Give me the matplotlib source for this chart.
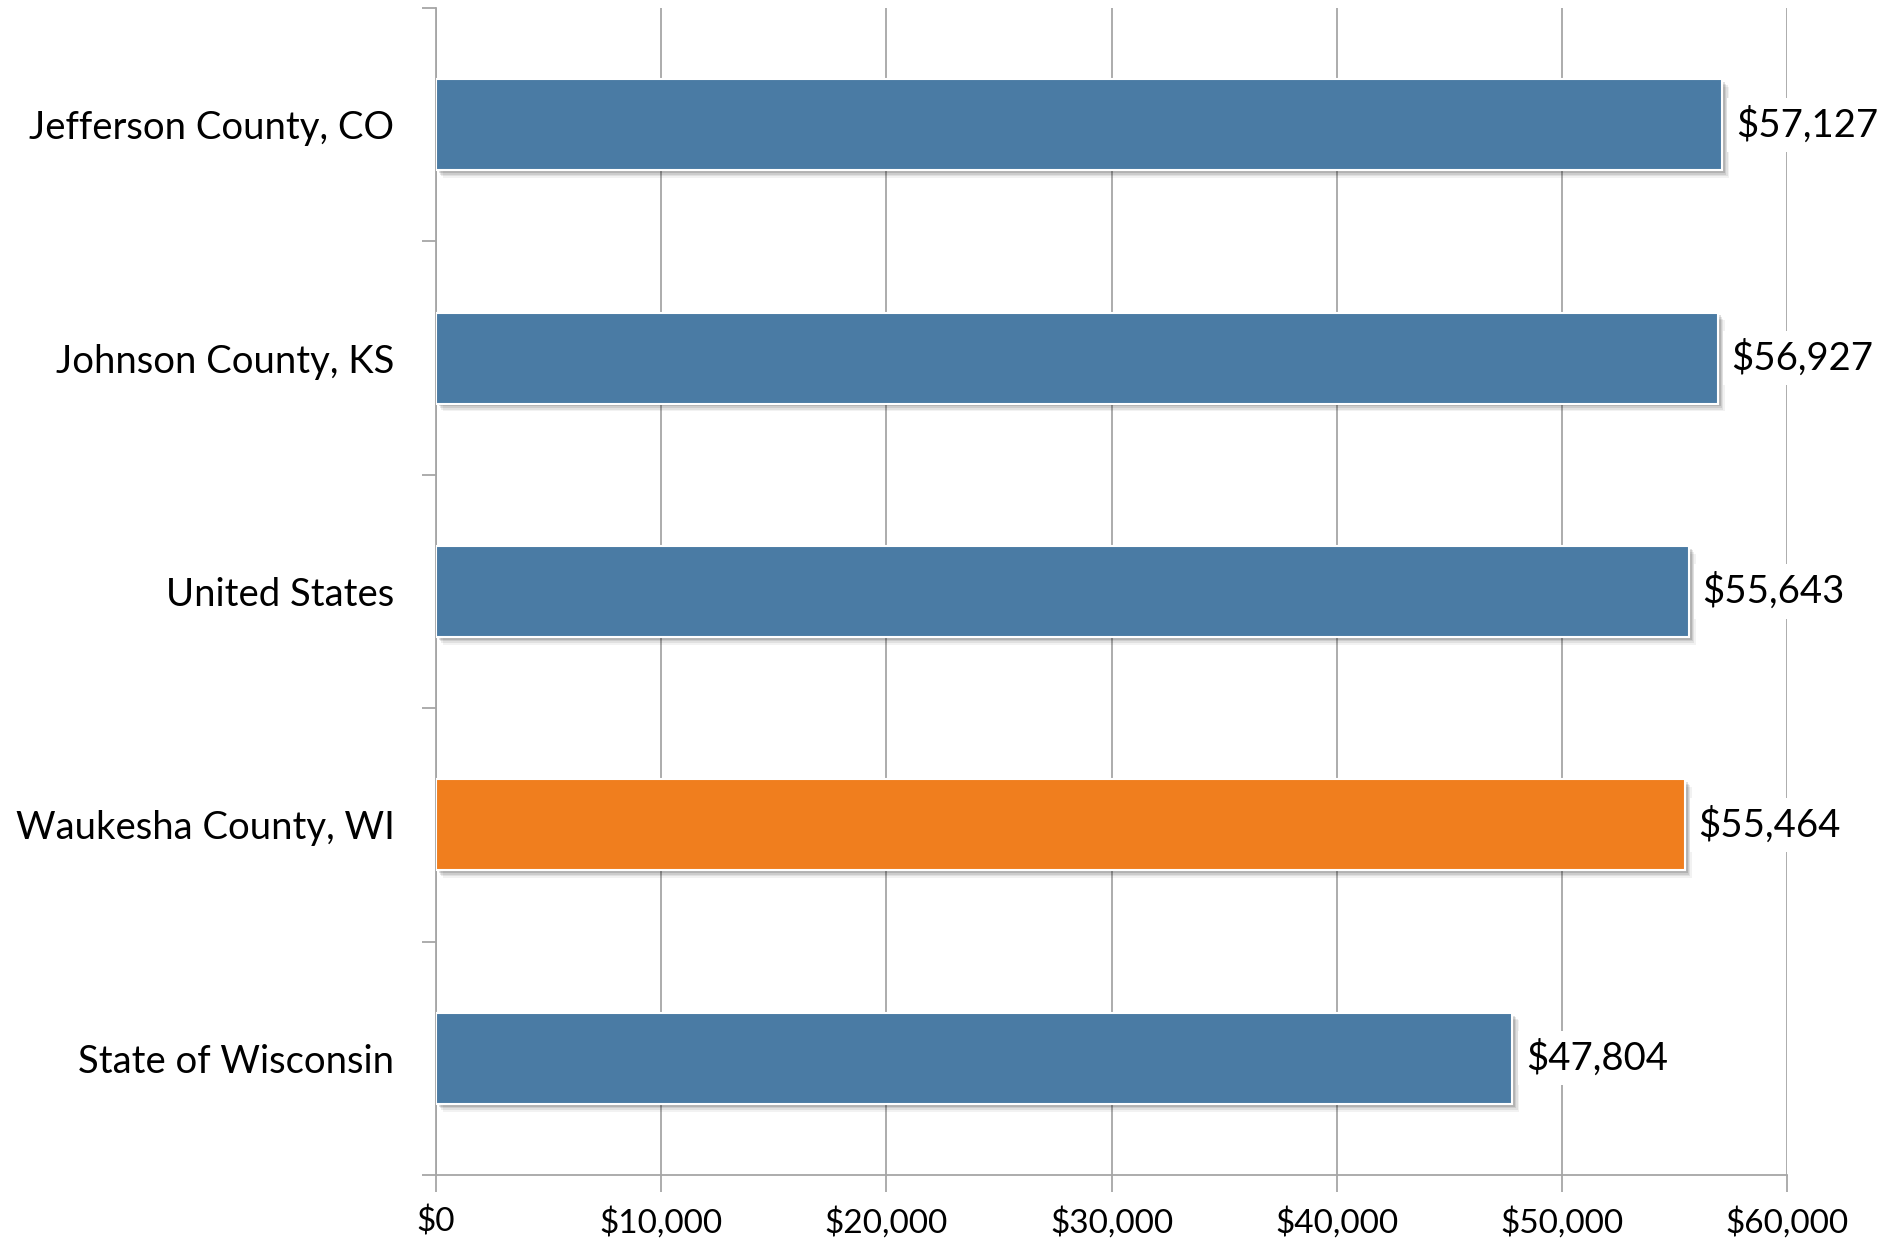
import matplotlib.pyplot as plt
from matplotlib.patches import Rectangle
from matplotlib.ticker import FuncFormatter, FixedLocator

places = ['Jefferson County, CO', 'Johnson County, KS', 'United States',
          'Waukesha County, WI', 'State of Wisconsin']
income = [57127, 56927, 55643, 55464, 47804]
highlight = 'Waukesha County, WI'

blue = '#4A7BA4'
orange = '#F07E1E'

plt.rcParams['font.family'] = ['Lato', 'DejaVu Sans']

fig = plt.figure(figsize=(18.91, 12.43), dpi=100)
ax = fig.add_axes([0.2306, 0.0547, 0.945 - 0.2306, 0.9936 - 0.0547])

ypos = list(range(len(places)))
colors = [orange if p == highlight else blue for p in places]
bar_h = 0.39

# soft drop shadow behind each bar
for y, v in zip(ypos, income):
    for k, a in enumerate([0.12, 0.09, 0.07, 0.05]):
        dx = 120 + k * 60
        dy = 0.012 + k * 0.007
        ax.add_patch(Rectangle((dx, y - bar_h / 2 + dy), v, bar_h,
                               facecolor='#000000', alpha=a, lw=0, zorder=2))

ax.barh(ypos, income, height=bar_h, color=colors, edgecolor='white',
        linewidth=1.5, zorder=3)

for y, v in zip(ypos, income):
    ax.text(v + 600, y, f'${v:,}', va='center', ha='left', fontsize=27.5,
            color='black', zorder=4,
            bbox=dict(facecolor='white', edgecolor='none', pad=6))

ax.set_xlim(0, 60000)
ax.set_ylim(len(places) - 0.5, -0.5)

ax.xaxis.set_major_locator(FixedLocator(range(0, 60001, 10000)))
ax.xaxis.set_major_formatter(FuncFormatter(lambda x, p: f'${int(x):,}'))
ax.grid(axis='x', color='#A6A6A6', linewidth=1.3, zorder=0)
ax.set_axisbelow(True)

ax.set_yticks(ypos)
ax.set_yticklabels(places)
ax.set_yticks([i - 0.5 for i in range(len(places) + 1)], minor=True)
ax.tick_params(axis='y', which='major', length=0, pad=30, labelsize=27.5)
ax.tick_params(axis='y', which='minor', length=10, width=1.3, color='#A6A6A6')
ax.tick_params(axis='x', which='major', length=12, width=1.3, color='#A6A6A6',
               labelsize=24, pad=11)

for s in ['top', 'right']:
    ax.spines[s].set_visible(False)
for s in ['left', 'bottom']:
    ax.spines[s].set_color('#A6A6A6')
    ax.spines[s].set_linewidth(1.3)

fig.savefig('out.png', dpi=100)
